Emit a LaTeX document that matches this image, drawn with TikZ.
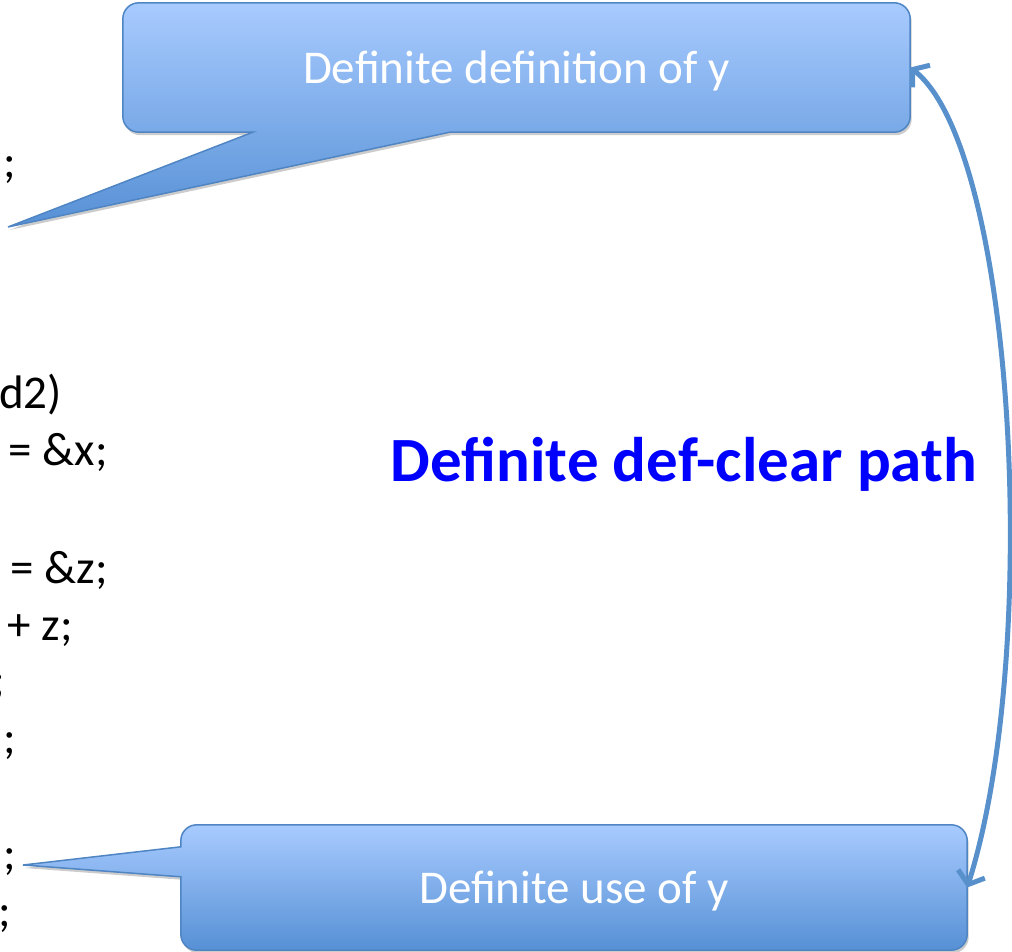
\documentclass[tikz,border=0pt]{standalone}
\usepackage{fontspec}
\setmainfont{Carlito}
\usetikzlibrary{arrows.meta, calc, shadows, backgrounds}
\definecolor{cNoteTop}{RGB}{168, 203, 255}
\definecolor{cNoteBot}{RGB}{86, 144, 213}
\definecolor{bNote}{RGB}{79, 133, 195}
\definecolor{cPath}{RGB}{88, 144, 204}
\definecolor{tPath}{RGB}{0, 0, 255}

\begin{document}
\begin{tikzpicture}[
    x=1pt, y=-1pt,
    font=\fontsize{47}{56}\selectfont,
    note/.style={
        inner sep=0pt,
        text=white,
        text depth=0pt
    },
    notebody/.style={
        draw=bNote,
        line width=1.5pt,
        top color=cNoteTop,
        bottom color=cNoteBot,
        drop shadow={shadow xshift=1.5pt, shadow yshift=-3pt, opacity=0.2, fill=black}
    },
    code/.style={anchor=base east, inner sep=0pt, text=black},
    arrow/.style={{Straight Barb[length=11pt,width=28pt]}-{Straight Barb[length=11pt,width=28pt]}, line width=5pt, color=cPath}
]
\useasboundingbox (0,0) rectangle (1012,952);
\clip (0,0) rectangle (1012,952);

% code lines, cut at the left edge
\node[code] (c1) at (16,178) {;};
\node[code] (c2) at (62,408) {d2)};
\node[code] (c3) at (108,465) {= \&x;};
\node[code] (c4) at (108,583) {= \&z;};
\node[code] (c5) at (73,640) {+ z;};
\node[code] (c6) at (5,695) {;};
\node[code] (c7) at (16,753) {;};
\node[code] (c8) at (16,869) {;};
\node[code] (c9) at (11,926) {;};

% callouts
\node[note, minimum width=787pt, minimum height=129pt] (defnote) at (516.5,67.5) {Definite definition of y};
\node[note, minimum width=786pt, minimum height=125pt] (usenote) at (574,887.5) {Definite use of y};
\coordinate (defpoint) at (8,227);
\coordinate (usepoint) at (23,865);

\begin{scope}[on background layer]
\path[notebody] (defpoint) -- ($(defnote.south west)+(130,0)$) [rounded corners=16pt]
    -- (defnote.south west) -- (defnote.north west) -- (defnote.north east)
    -- (defnote.south east) [sharp corners] -- ($(defnote.south west)+(327,0)$) -- cycle;
\path[notebody] (usepoint) -- ($(usenote.north west)+(0,22)$) [rounded corners=16pt]
    -- (usenote.north west) -- (usenote.north east) -- (usenote.south east)
    -- (usenote.south west) [sharp corners] -- ($(usenote.north west)+(0,52)$) -- cycle;
\end{scope}

% def-clear path
\node[font=\fontsize{63}{75}\selectfont\bfseries, text=tPath, anchor=base] (pathlabel) at (684,481) {Definite def-clear path};
\draw[arrow] (defnote.east) .. controls (1015,150) and (1042,650) .. (usenote.east);

\end{tikzpicture}
\end{document}
